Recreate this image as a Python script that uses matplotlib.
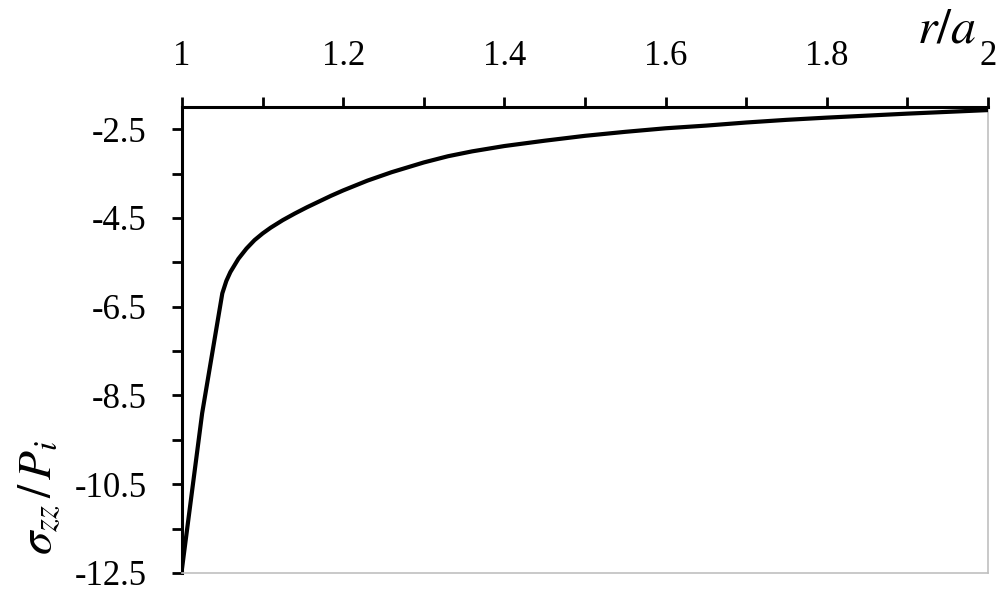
import numpy as np
import matplotlib
matplotlib.use('Agg')
import matplotlib.pyplot as plt
from matplotlib.ticker import MultipleLocator, FixedLocator

#%% data
r_over_a = [1.0, 1.025, 1.05, 1.055, 1.06, 1.07, 1.08, 1.09, 1.1, 1.11,
            1.125, 1.14, 1.155, 1.17, 1.185, 1.2, 1.23, 1.26, 1.3, 1.33,
            1.36, 1.4, 1.45, 1.5, 1.55, 1.6, 1.65, 1.7, 1.75, 1.8,
            1.9, 2.0]
sigma_zz = [-12.4, -8.9, -6.2, -5.92, -5.72, -5.42, -5.19, -5.0, -4.85, -4.72,
            -4.55, -4.4, -4.26, -4.13, -4.0, -3.88, -3.66, -3.47, -3.25, -3.11,
            -3.0, -2.88, -2.76, -2.65, -2.56, -2.48, -2.42, -2.35, -2.29, -2.24,
            -2.15, -2.07]

y_major = [-12.5, -10.5, -8.5, -6.5, -4.5, -2.5]
y_minor = [-11.5, -9.5, -7.5, -5.5, -3.5]

#%% plot
plt.rcParams['font.family'] = 'Liberation Serif'
plt.rcParams['mathtext.fontset'] = 'stix'

fig = plt.figure(figsize=(10, 5.92), dpi=100)
ax = fig.add_axes([0.182, 0.0321, 0.806, 0.7872])

ax.plot(r_over_a, sigma_zz, color='black', lw=3, solid_capstyle='butt',
        solid_joinstyle='round', zorder=3)

ax.set_xlim(1, 2)
ax.set_ylim(-12.5, -2)

ax.xaxis.tick_top()
ax.xaxis.set_major_locator(MultipleLocator(0.2))
ax.xaxis.set_minor_locator(MultipleLocator(0.1))
ax.xaxis.set_major_formatter(plt.FuncFormatter(lambda v, p: f'{v:g}'))
ax.yaxis.set_major_locator(FixedLocator(y_major))
ax.yaxis.set_minor_locator(FixedLocator(y_minor))
ax.yaxis.set_major_formatter(plt.FuncFormatter(lambda v, p: f'{v:g}'))

ax.tick_params(which='both', direction='out', length=7.5, width=2, color='black',
               labelsize=25)
ax.tick_params(axis='x', which='both', pad=17)
ax.tick_params(axis='y', which='both', pad=18)

for s in ['top', 'left']:
    ax.spines[s].set_linewidth(2.2)
    ax.spines[s].set_color('black')
for s in ['bottom', 'right']:
    ax.spines[s].set_linewidth(1.2)
    ax.spines[s].set_color('#c0c0c0')

fig.text(0.947, 0.929, r'$r/a$', fontsize=36, ha='center', va='baseline')
fig.text(0.04, 0.16, r'$\sigma_{zz}\,/\,P_i$', fontsize=34, rotation=90,
         ha='center', va='center')

plt.savefig('out.png', dpi=100)
